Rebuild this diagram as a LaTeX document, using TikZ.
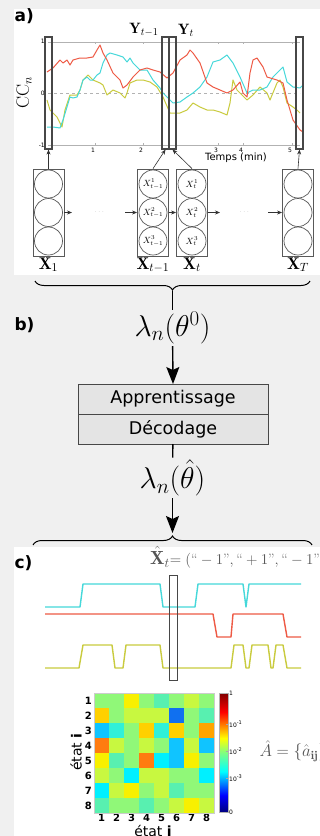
\RequirePackage{fix-cm}
\documentclass[tikz,border=0pt]{standalone}
\usepackage{amsmath}
\usepackage{amssymb}
\usepackage{fontspec}
\setsansfont{DejaVu Sans}
\usepackage{xcolor}
\usepackage{tikz}
\usetikzlibrary{arrows.meta,decorations.pathreplacing,positioning}

\definecolor{bggrey}{HTML}{F0F0F0}
\definecolor{framegrey}{HTML}{474747}
\definecolor{boxfill}{HTML}{E4E4E4}
\definecolor{ccred}{HTML}{EE5A45}
\definecolor{cccyan}{HTML}{45D8DA}
\definecolor{ccyel}{HTML}{C9CB3E}
\definecolor{labgrey}{HTML}{555555}
% heat map cells
\definecolor{hmG}{HTML}{90F878}
\definecolor{hmL}{HTML}{C8F840}
\definecolor{hmY}{HTML}{F8F000}
\definecolor{hmD}{HTML}{FFD000}
\definecolor{hmO}{HTML}{FFA400}
\definecolor{hmR}{HTML}{FF7C10}
\definecolor{hmT}{HTML}{58F0B0}
\definecolor{hmA}{HTML}{30F0D8}
\definecolor{hmC}{HTML}{00F0FF}
\definecolor{hmS}{HTML}{10C4FF}
\definecolor{hmB}{HTML}{1070F0}
\definecolor{jetdb}{HTML}{00007F}
\definecolor{jetdr}{HTML}{7F0000}
\definecolor{jetg}{HTML}{80FF80}
\pgfdeclareverticalshading{jetbar}{100bp}{color(0bp)=(jetdb); color(25bp)=(jetdb); color(32bp)=(blue); color(42bp)=(cyan); color(50bp)=(jetg); color(56bp)=(yellow); color(67bp)=(red); color(75bp)=(jetdr); color(100bp)=(jetdr)}

\tikzset{
  panel/.style={font=\sffamily\bfseries\fontsize{17}{17}\selectfont, anchor=west},
  ybox/.style={draw=framegrey, line width=1.1pt, minimum width=7pt, minimum height=112pt, inner sep=0pt},
  hmmbox/.style={draw=gray!70!black, line width=0.8pt, minimum width=31pt, minimum height=87pt, inner sep=0pt},
  hstate/.style={circle, draw=gray!70!black, line width=0.7pt, minimum size=28pt, inner sep=0pt, font=\fontsize{9}{9}\selectfont},
  sarrow/.style={-{Stealth[length=5pt,width=4pt]}, line width=0.6pt, black!80},
  bigarrow/.style={-{Stealth[length=17pt,width=13pt,inset=3pt]}, line width=1.4pt},
  stepbox/.style={draw=framegrey, fill=boxfill, line width=1pt, minimum width=190pt, minimum height=30pt, inner sep=0pt, outer sep=0pt, font=\sffamily\fontsize{17.5}{17.5}\selectfont},
  lamlabel/.style={font=\fontsize{30}{32}\selectfont, inner sep=2pt},
  xlabel/.style={font=\fontsize{17}{17}\selectfont, inner sep=1pt},
  sigline/.style={line width=1.4pt, line join=round},
  curve/.style={line width=1pt, line join=round}
}

\begin{document}
\begin{tikzpicture}[x=1pt, y=-1pt]
    \fill[bggrey] (0,0) rectangle (320,836);
    \useasboundingbox (0,0) rectangle (320,836);
    \fill[white] (14,9) rectangle (320,275);
    \fill[white] (14,547) rectangle (320,836);

    % a) observations
    \node[panel] (pa) at (11,16) {a)};
    \draw[gray!60, line width=0.6pt] (48,42) -- (300,42);
    \draw[gray!60, line width=0.6pt] (48,145) -- (300,145);
    \draw[gray!60, dashed, line width=0.6pt] (48,93) -- (300,93);
    \foreach \tx/\tl in {95/1, 143/2, 218/3, 243/4, 292/5} {
        \draw[gray!60] (\tx,42) -- (\tx,44);
        \draw[gray!60] (\tx,145) -- (\tx,143);
        \node[font=\sffamily\fontsize{6}{6}\selectfont, inner sep=0pt] at (\tx-2,150) {\tl};
    }
    \node[font=\sffamily\fontsize{6}{6}\selectfont, anchor=east, inner sep=0pt] (t1) at (45,41) {1};
    \node[font=\sffamily\fontsize{6}{6}\selectfont, anchor=east, inner sep=0pt] (t0) at (45,93) {0};
    \node[font=\sffamily\fontsize{6}{6}\selectfont, anchor=east, inner sep=0pt] (tm1) at (45,145) {-1};
    \node[rotate=90, font=\fontsize{18}{18}\selectfont] (ccn) at (24,93) {$\mathrm{CC}_n$};
    \node[font=\sffamily\fontsize{10}{10}\selectfont] (temps) at (236,158) {Temps (min)};

    \draw[curve, ccyel] plot coordinates {(47,100) (50,110) (57,117) (62,127) (65,110) (70,95) (77,95) (80,90) (83,80) (88,75) (93,80) (100,83) (103,85) (107,95) (113,90) (120,93) (125,98) (127,93) (130,83) (137,80) (143,80) (150,82) (157,87) (163,97) (170,113) (180,113) (187,110) (193,103) (200,107) (207,110) (213,110) (220,112) (227,115) (230,103) (233,80) (237,90) (240,93) (247,100) (253,95) (260,87) (267,93) (270,100) (277,83) (280,80) (283,87) (287,103) (293,107) (297,110) (300,113)};
    \draw[curve, cccyan] plot coordinates {(47,127) (53,127) (60,128) (63,120) (67,107) (70,97) (73,98) (77,97) (80,90) (83,80) (87,77) (90,80) (93,80) (97,75) (100,73) (103,63) (107,55) (110,53) (117,55) (123,57) (127,62) (130,58) (133,63) (140,70) (147,70) (153,80) (160,88) (163,93) (167,97) (170,100) (173,103) (180,102) (187,97) (193,93) (200,87) (207,77) (213,62) (220,60) (227,55) (233,63) (240,77) (247,93) (253,90) (260,90) (267,87) (273,77) (280,70) (283,67) (287,82) (293,87) (300,88) (303,85)};
    \draw[curve, ccred] plot coordinates {(47,72) (53,68) (60,60) (63,63) (67,60) (70,65) (73,60) (80,58) (87,58) (93,57) (97,50) (100,45) (103,53) (107,60) (113,73) (120,80) (123,88) (127,85) (133,77) (140,70) (147,68) (153,70) (160,72) (167,78) (173,73) (180,60) (187,55) (190,50) (193,53) (200,63) (207,83) (213,87) (220,90) (227,93) (233,90) (240,82) (243,93) (247,97) (250,73) (253,60) (257,58) (263,67) (267,77) (277,80) (283,83) (287,100) (293,120) (300,130) (303,132)};

    \node[ybox] (Y1) at (48.5,93) {};
    \node[ybox] (Ytm1) at (165.5,93) {};
    \node[ybox] (Yt) at (172.5,93) {};
    \node[ybox] (YT) at (299.5,93) {};
    \node[font=\fontsize{15}{15}\selectfont] (lblYtm1) at (144,30) {$\mathbf{Y}_{t-1}$};
    \node[font=\fontsize{15}{15}\selectfont] (lblYt) at (186,30) {$\mathbf{Y}_t$};

    % hidden states
    \node[hmmbox] (X1) at (48.5,212.5) {};
    \node[hmmbox] (Xtm1) at (153,212.5) {};
    \node[hmmbox] (Xt) at (192,212.5) {};
    \node[hmmbox] (XT) at (298,212.5) {};
    \foreach \k/\yy in {1/184, 2/212.5, 3/241} {
        \node[hstate] (s1\k) at (48.5,\yy) {};
        \node[hstate] (stm1\k) at (153,\yy) {$X_{t-1}^{\k}$};
        \node[hstate] (st\k) at (192,\yy) {$X_t^{\k}$};
        \node[hstate] (sT\k) at (298,\yy) {};
    }
    \node[xlabel, below=0pt of X1] (lblX1) {$\mathbf{X}_1$};
    \node[xlabel, below=0pt of Xtm1] (lblXtm1) {$\mathbf{X}_{t-1}$};
    \node[xlabel, below=0pt of Xt] (lblXt) {$\mathbf{X}_t$};
    \node[xlabel, below=0pt of XT] (lblXT) {$\mathbf{X}_T$};

    \node[text=gray, font=\tiny] (dots1) at (100,212) {$\cdots$};
    \node[text=gray, font=\tiny] (dots2) at (245,212) {$\cdots$};
    \coordinate (h1) at (72,212.5);
    \coordinate (h2) at (125,212.5);
    \coordinate (h3) at (220,212.5);
    \coordinate (h4) at (268,212.5);
    \draw[sarrow] (X1.east) -- (h1);
    \draw[sarrow] (h2) -- (Xtm1.west);
    \draw[sarrow] (Xtm1.east) -- (Xt.west);
    \draw[sarrow] (Xt.east) -- (h3);
    \draw[sarrow] (h4) -- (XT.west);
    \draw[sarrow] (X1.north) -- (Y1.south);
    \draw[sarrow] (Xtm1.north) -- (Ytm1.south);
    \draw[sarrow] (Xt.north) -- (Yt.south);
    \draw[sarrow] (XT.north) -- (YT.south);

    % b) learning
    \draw[decorate, decoration={brace, amplitude=9pt}, line width=1pt] (310,281) -- (35,281);
    \coordinate (tipa) at (172.5,291);
    \node[panel] (pb) at (11,325) {b)};
    \node[lamlabel] (lam0) at (172.5,328) {$\lambda_n(\theta^0)$};
    \node[stepbox] (learn) at (173,399) {Apprentissage};
    \node[stepbox, below=0pt of learn] (decode) {Décodage};
    \node[lamlabel] (lamhat) at (172.5,478) {$\lambda_n(\hat{\theta})$};
    \coordinate (tipc) at (172.5,533);
    \draw[line width=1.4pt] (tipa) -- (lam0);
    \draw[bigarrow] (lam0) -- (learn.north);
    \draw[line width=1.4pt] (decode) -- (lamhat);
    \draw[bigarrow] (lamhat) -- (tipc);
    \draw[decorate, decoration={brace, amplitude=9pt}, line width=1pt] (33,545) -- (312,545);

    % c) decoded states
    \node[panel] (pc) at (11,563) {c)};
    \node[anchor=west, text=labgrey, inner sep=0pt] (xhat) at (150,557) {\fontsize{19}{19}\selectfont$\hat{\mathbf{X}}_t$\fontsize{15}{15}\selectfont$=(\text{“}-1\text{”},\text{“}+1\text{”},\text{“}-1\text{”})$};
    \draw[sigline, cccyan] (45,607) -- (80,607) -- (83,584) -- (160,584) -- (163,607) -- (195,607) -- (198,584) -- (243,584) -- (246,607) -- (249,584) -- (301,584);
    \draw[sigline, ccred] (45,614) -- (213,614) -- (217,637) -- (231,637) -- (233,614) -- (283,614) -- (287,637) -- (301,637);
    \draw[sigline, ccyel] (45,668) -- (79,668) -- (83,645) -- (112,645) -- (115,668) -- (123,668) -- (126,645) -- (160,645) -- (163,668) -- (231,668) -- (234,645) -- (243,645) -- (246,668) -- (249,668) -- (252,645) -- (268,645) -- (271,668) -- (273,668) -- (276,645) -- (283,645) -- (287,668) -- (301,668);
    \node[draw=framegrey, line width=1pt, minimum width=8pt, minimum height=105pt, inner sep=0pt] (xhatbox) at (173,627.5) {};

    % transition matrix
    \foreach \row [count=\i] in {{G,G,Y,G,T,G,L,G},{D,G,L,L,L,B,G,T},{S,A,G,D,A,D,G,O},{R,L,G,L,G,S,L,S},{Y,T,G,R,C,S,Y,G},{L,G,C,L,L,G,G,C},{C,L,Y,G,L,T,G,G},{T,G,G,T,G,L,Y,L}} {
        \foreach \c [count=\j] in \row {
            \fill[hm\c] (79+15*\j,678+15*\i) rectangle ++(15,15);
        }
        \node[font=\sffamily\bfseries\fontsize{10}{10}\selectfont, anchor=east, inner sep=1pt] at (93,685.5+15*\i) {\i};
        \node[font=\sffamily\bfseries\fontsize{10}{10}\selectfont, inner sep=0pt] at (86.5+15*\i,818) {\i};
    }
    \draw[gray!40, line width=0.6pt] (94,693) rectangle (214,813);
    \shade[shading=jetbar] (219,693) rectangle (228,812);
    \draw[gray!60, line width=0.5pt] (219,693) rectangle (228,812);
    \foreach \cy/\cl in {693/1, 724/10\textsuperscript{-1}, 751/10\textsuperscript{-2}, 778/10\textsuperscript{-3}, 812/0} {
        \draw[gray!70] (226,\cy) -- (228,\cy);
        \node[font=\sffamily\fontsize{6}{6}\selectfont, anchor=west, inner sep=1pt] at (228,\cy) {\cl};
    }
    \node[rotate=90, font=\sffamily\fontsize{14}{14}\selectfont] (etati) at (76,752) {état \textbf{i}};
    \node[anchor=north, font=\sffamily\fontsize{14}{14}\selectfont, inner sep=0pt] (etatj) at (153,825) {état \textbf{j}};
    \node[anchor=west, text=labgrey, font=\fontsize{17}{17}\selectfont] (ahat) at (256,751) {$\hat{A}=\{\hat{a}_{\mathbf{ij}}\}$};
\end{tikzpicture}
\end{document}
